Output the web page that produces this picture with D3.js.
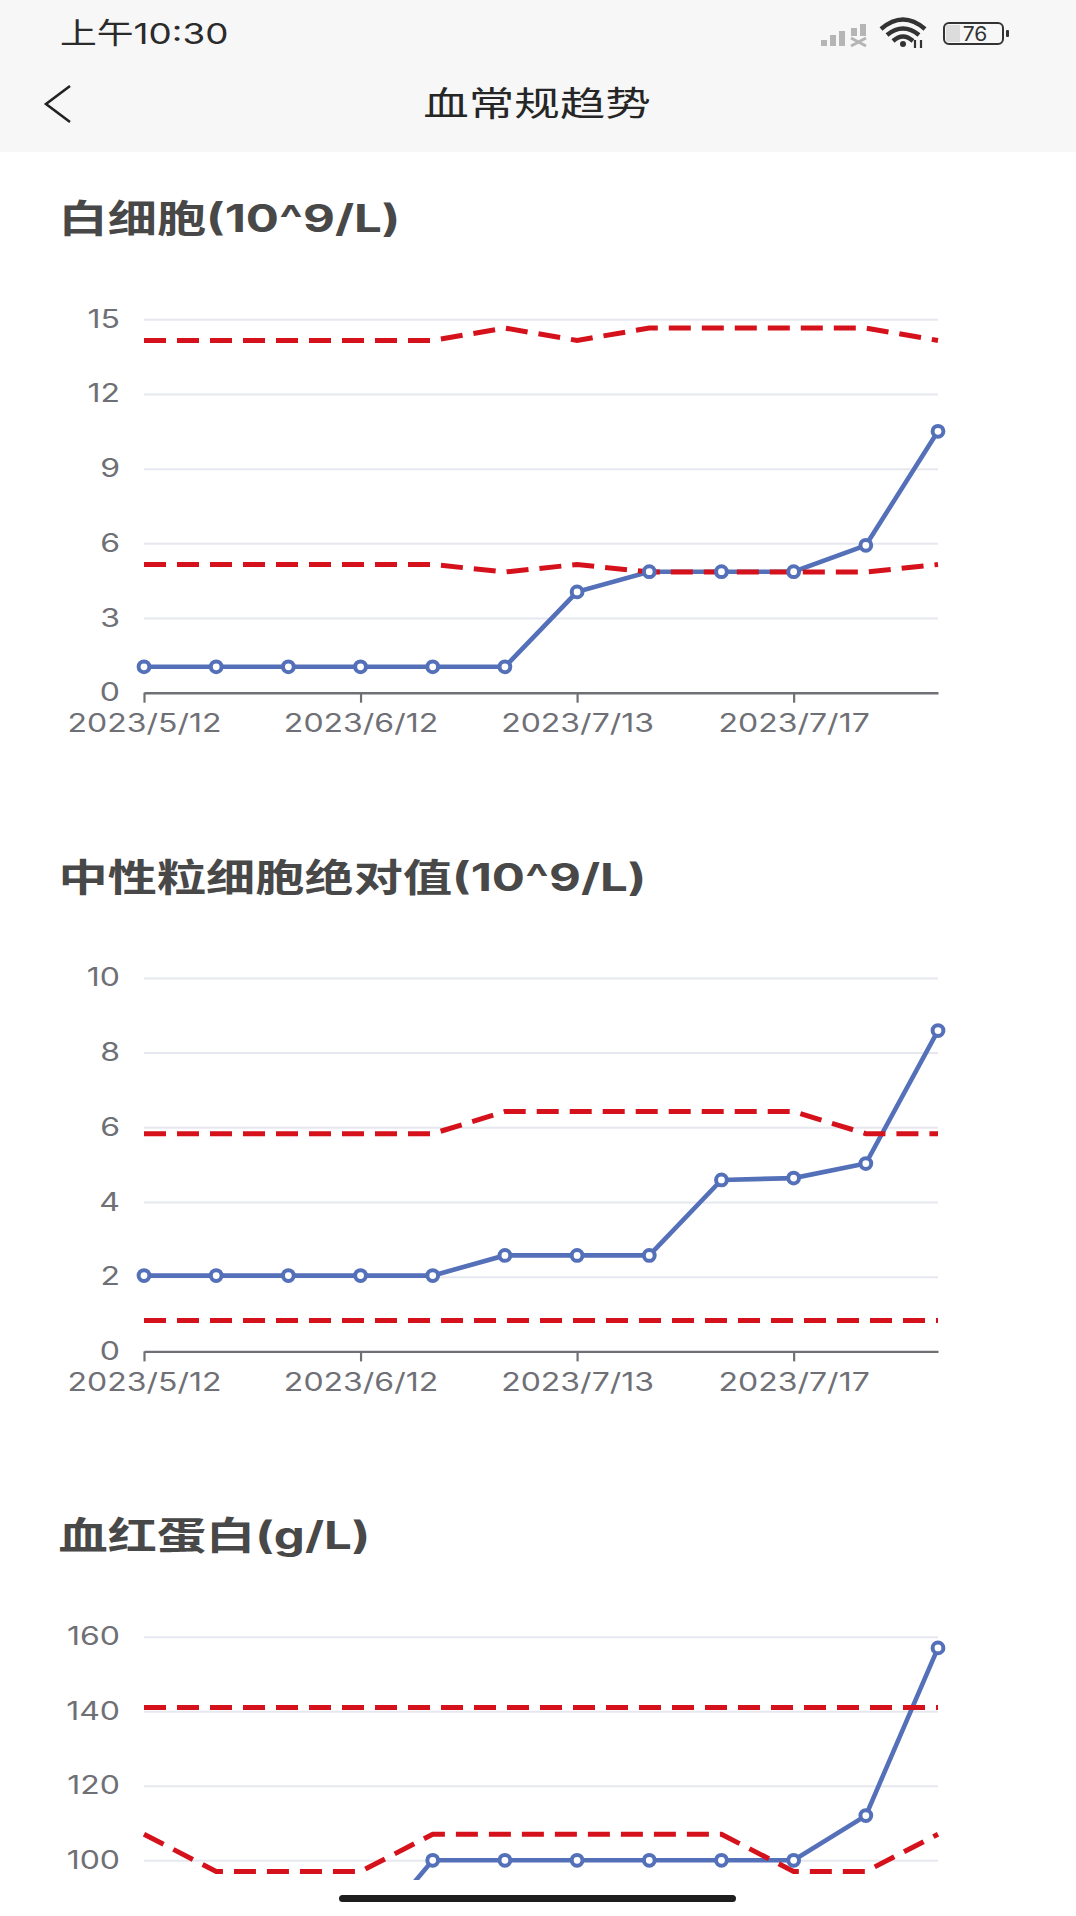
<!DOCTYPE html>
<html><head><meta charset="utf-8">
<script src="https://cdn.jsdelivr.net/npm/d3@7/dist/d3.min.js"></script>
<style>html,body{margin:0;padding:0;background:#fff;overflow:hidden}svg{display:block}</style>
</head><body><svg id="c" width="1076" height="1916"></svg>
<script>
const pointIndex = d3.range(12);
const xTickLabels = {0:"2023/5/12",3:"2023/6/12",6:"2023/7/13",9:"2023/7/17"};

const wbcValues = [1.04,1.04,1.04,1.04,1.04,1.04,4.05,4.86,4.86,4.86,5.92,10.5];
const wbcUpper  = [14.15,14.15,14.15,14.15,14.15,14.65,14.15,14.65,14.65,14.65,14.65,14.15];
const wbcLower  = [5.15,5.15,5.15,5.15,5.15,4.85,5.15,4.85,4.85,4.85,4.85,5.15];
const wbcTicks  = [0,3,6,9,12,15];

const ancValues = [2.03,2.03,2.03,2.03,2.03,2.57,2.57,2.57,4.59,4.64,5.03,8.59];
const ancUpper  = [5.83,5.83,5.83,5.83,5.83,6.42,6.42,6.42,6.42,6.42,5.83,5.83];
const ancLower  = [0.83,0.83,0.83,0.83,0.83,0.83,0.83,0.83,0.83,0.83,0.83,0.83];
const ancTicks  = [0,2,4,6,8,10];

const hgbValues = [77,77,77,77,100,100,100,100,100,100,112,157];
const hgbUpper  = [141,141,141,141,141,141,141,141,141,141,141,141];
const hgbLower  = [107,97,97,97,107,107,107,107,107,97,97,107];
const hgbTicks  = [100,120,140,160];

const BLUE="#5470b9", RED="#d5121b", GREY="#6f7076", GRID="#e6e8ef";
const FONT='Inter,"Noto Sans CJK SC",sans-serif';
const svg=d3.select("#c");
const L=144,R=938, STRETCH=1.28;
const x=d3.scalePoint().domain(pointIndex).range([L,R]);

svg.append("rect").attr("width",1076).attr("height",152).attr("fill","#f7f7f7");

function stretched(sel,tx,ty,sx,opts){
  return sel.append("text").attr("transform",`translate(${tx},${ty}) scale(${sx},1)`)
    .attr("font-family",opts.family||FONT).attr("font-size",opts.size)
    .attr("font-weight",opts.weight||400).attr("fill",opts.fill).attr("text-anchor",opts.anchor||"start")
    .text(opts.text);
}
stretched(svg,60,44,1.27,{text:"上午10:30",size:29,fill:"#2b2b2b"});
stretched(svg,537,116,1.34,{text:"血常规趋势",size:34,fill:"#262626",anchor:"middle"});
svg.append("path").attr("d","M70,86L46,104L70,122").attr("fill","none").attr("stroke","#222").attr("stroke-width",2.6);

// status icons
const st=svg.append("g");
[[821,40,6],[830,35,11],[839,31,15]].forEach(b=>st.append("rect").attr("x",b[0]).attr("y",b[1]).attr("width",6).attr("height",b[2]).attr("fill","#b5b5b5"));
st.append("rect").attr("x",860).attr("y",24).attr("width",6).attr("height",12).attr("fill","#b5b5b5");
st.append("rect").attr("x",851).attr("y",28).attr("width",6).attr("height",8).attr("fill","#b5b5b5");
st.append("path").attr("d","M851,38L866,46M866,38L851,46").attr("stroke","#b5b5b5").attr("stroke-width",3);
st.append("path").attr("d","M881,29Q903,10 925,29M887,35Q903,22 919,35M893,41Q903,32 913,41").attr("fill","none").attr("stroke","#333").attr("stroke-width",4.4);
st.append("circle").attr("cx",903).attr("cy",44).attr("r",3).attr("fill","#333");
st.append("path").attr("d","M915,40V48M921,40V48").attr("stroke","#333").attr("stroke-width",2.2);
st.append("rect").attr("x",946).attr("y",25).attr("width",14).attr("height",17).attr("fill","#dcdcdc");
st.append("rect").attr("x",944).attr("y",23).attr("width",59).attr("height",21).attr("rx",5).attr("fill","none").attr("stroke","#333").attr("stroke-width",2);
st.append("rect").attr("x",1006).attr("y",30).attr("width",3).attr("height",7).attr("rx",1).attr("fill","#333");
stretched(st,975,41,1.05,{text:"76",size:20,fill:"#333",anchor:"middle"});

const clip=svg.append("defs").append("clipPath").attr("id","screen");
clip.append("rect").attr("x",0).attr("y",1560).attr("width",1076).attr("height",320);

function chart(o){
  const g=svg.append("g");
  if(o.clip) g.attr("clip-path","url(#screen)");
  stretched(svg,58.5,o.titleY,1.295,{text:o.title,size:38,weight:700,fill:"#484848"});
  const y=d3.scaleLinear().domain([0,o.max]).range([o.bottom,o.top]);

  const ya=g.append("g").attr("transform",`translate(${L},0)`)
    .call(d3.axisLeft(y).tickValues(o.ticks).tickSize(-(R-L)).tickPadding(24));
  ya.select(".domain").remove();
  ya.selectAll(".tick line").attr("stroke",GRID).attr("stroke-width",2);
  ya.selectAll(".tick").filter(d=>d===0).select("line").remove();
  ya.selectAll("text").attr("font-family",FONT).attr("font-size",25).attr("fill",GREY)
    .attr("x",-24/STRETCH).attr("transform",`scale(${STRETCH},1)`);

  if(!o.clip){
    const xa=g.append("g").attr("transform",`translate(0,${o.bottom})`)
      .call(d3.axisBottom(x).tickValues(Object.keys(xTickLabels).map(Number))
        .tickFormat(i=>xTickLabels[i]).tickSize(10).tickSizeOuter(0).tickPadding(12));
    xa.select(".domain").attr("stroke",GREY).attr("stroke-width",2.4);
    xa.selectAll(".tick line").attr("stroke",GREY).attr("stroke-width",2.2);
    xa.selectAll("text").attr("font-family",FONT).attr("font-size",25).attr("fill",GREY)
      .attr("transform",`scale(${STRETCH},1)`);
  }

  const line=d3.line().x((d,i)=>x(i)).y(d=>y(d));
  g.append("path").datum(o.values).attr("d",line).attr("fill","none").attr("stroke",BLUE).attr("stroke-width",4.6);
  [o.upper,o.lower].forEach(s=>g.append("path").datum(s).attr("d",line).attr("fill","none")
    .attr("stroke",RED).attr("stroke-width",5).attr("stroke-dasharray","22 11"));
  g.selectAll("circle.p").data(o.values).join("circle").attr("class","p")
    .attr("cx",(d,i)=>x(i)).attr("cy",d=>y(d)).attr("r",5.4)
    .attr("fill","#fff").attr("stroke",BLUE).attr("stroke-width",4);
}
chart({title:"白细胞(10^9/L)",titleY:232,top:319.3,bottom:692.7,max:15,ticks:wbcTicks,values:wbcValues,upper:wbcUpper,lower:wbcLower});
chart({title:"中性粒细胞绝对值(10^9/L)",titleY:891,top:977.9,bottom:1351.4,max:10,ticks:ancTicks,values:ancValues,upper:ancUpper,lower:ancLower});
chart({title:"血红蛋白(g/L)",titleY:1549,top:1636.7,bottom:2233,max:160,ticks:hgbTicks,values:hgbValues,upper:hgbUpper,lower:hgbLower,clip:true});

svg.append("rect").attr("x",339).attr("y",1895).attr("width",397).attr("height",7).attr("rx",3.5).attr("fill","#1e1e1e");
</script></body></html>
